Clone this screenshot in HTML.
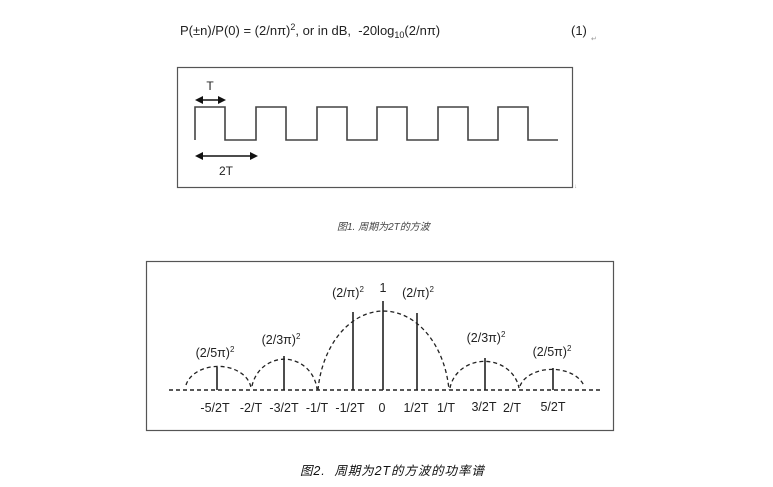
<!DOCTYPE html>
<html>
<head>
<meta charset="utf-8">
<style>
  html,body{margin:0;padding:0;background:#fff;}
  body{width:773px;height:487px;overflow:hidden;position:relative;}
  svg{position:absolute;left:0;top:0;}
  .t{font-family:"Liberation Sans",Arial,sans-serif;fill:#222;}
  .cj{font-family:"Liberation Sans","Noto Sans CJK SC","WenQuanYi Zen Hei",sans-serif;font-style:italic;}
</style>
</head>
<body>
<svg width="773" height="487" viewBox="0 0 773 487" xmlns="http://www.w3.org/2000/svg">
  <rect x="0" y="0" width="773" height="487" fill="#fff"/>

  <!-- Formula -->
  <text class="t" x="180" y="35" font-size="13">P(±n)/P(0) = (2/nπ)<tspan font-size="9" dy="-5">2</tspan><tspan dy="5">, or in dB,&#160; -20log</tspan><tspan font-size="9" dy="3">10</tspan><tspan dy="-3">(2/nπ)</tspan></text>
  <text class="t" x="571" y="35" font-size="13">(1)</text>
  <text x="591" y="41" font-size="7" fill="#999" font-family="Liberation Sans, sans-serif">↵</text>

  <!-- Figure 1 box -->
  <rect x="177.5" y="67.5" width="395" height="120" fill="none" stroke="#555" stroke-width="1.2"/>
  <text x="574" y="188" font-size="6" fill="#999" font-family="Liberation Sans, sans-serif">↓</text>

  <!-- Square wave -->
  <path d="M195,140 V107 H225 V140 H256 V107 H286 V140 H317 V107 H347 V140 H377 V107 H407 V140 H438 V107 H468 V140 H498 V107 H528 V140 H558"
        fill="none" stroke="#444" stroke-width="1.6"/>

  <!-- T arrow -->
  <line x1="200" y1="100" x2="220" y2="100" stroke="#111" stroke-width="1.6"/>
  <polygon points="195,100 203,96 203,104" fill="#111"/>
  <polygon points="226,100 218,96 218,104" fill="#111"/>
  <text class="t" x="210" y="90" font-size="12" text-anchor="middle">T</text>

  <!-- 2T arrow -->
  <line x1="200" y1="156" x2="252" y2="156" stroke="#111" stroke-width="1.6"/>
  <polygon points="195,156 203,152 203,160" fill="#111"/>
  <polygon points="258,156 250,152 250,160" fill="#111"/>
  <text class="t" x="226" y="175" font-size="12" text-anchor="middle">2T</text>

  <!-- Caption 1 -->
  <text class="cj" x="337" y="230" font-size="10" fill="#444">图1. 周期为2T的方波</text>

  <!-- Figure 2 box -->
  <rect x="146.5" y="261.5" width="467" height="169" fill="none" stroke="#555" stroke-width="1.2"/>

  <!-- baseline -->
  <line x1="169" y1="390" x2="603" y2="390" stroke="#222" stroke-width="1.4" stroke-dasharray="4 3"/>

  <!-- lobes -->
  <g fill="none" stroke="#222" stroke-width="1.3" stroke-dasharray="4 3">
    <path d="M186,385 A33,24 0 0 1 251,388"/>
    <path d="M252,386 A33,34 0 0 1 317,389"/>
    <path d="M318,390 A66,90 0 0 1 449,390"/>
    <path d="M450,388 A35,32 0 0 1 519,388"/>
    <path d="M520,386 A33,22 0 0 1 584,386"/>
  </g>

  <!-- stems -->
  <g stroke="#222" stroke-width="1.6">
    <line x1="217" y1="390" x2="217" y2="367"/>
    <line x1="284" y1="390" x2="284" y2="356"/>
    <line x1="353" y1="390" x2="353" y2="312"/>
    <line x1="383" y1="390" x2="383" y2="301"/>
    <line x1="417" y1="390" x2="417" y2="313"/>
    <line x1="485" y1="390" x2="485" y2="358"/>
    <line x1="553" y1="390" x2="553" y2="368"/>
  </g>

  <!-- top labels -->
  <g class="t" font-size="12.5" text-anchor="middle">
    <text x="383" y="292">1</text>
    <text x="348" y="297">(2/π)<tspan font-size="8" dy="-5">2</tspan></text>
    <text x="418" y="297">(2/π)<tspan font-size="8" dy="-5">2</tspan></text>
    <text x="281" y="344">(2/3π)<tspan font-size="8" dy="-5">2</tspan></text>
    <text x="486" y="342">(2/3π)<tspan font-size="8" dy="-5">2</tspan></text>
    <text x="215" y="357">(2/5π)<tspan font-size="8" dy="-5">2</tspan></text>
    <text x="552" y="356">(2/5π)<tspan font-size="8" dy="-5">2</tspan></text>
  </g>

  <!-- bottom labels -->
  <g class="t" font-size="12.5" text-anchor="middle">
    <text x="215" y="412">-5/2T</text>
    <text x="251" y="412">-2/T</text>
    <text x="284" y="412">-3/2T</text>
    <text x="317" y="412">-1/T</text>
    <text x="350" y="412">-1/2T</text>
    <text x="382" y="412">0</text>
    <text x="416" y="412">1/2T</text>
    <text x="446" y="412">1/T</text>
    <text x="484" y="411">3/2T</text>
    <text x="512" y="412">2/T</text>
    <text x="553" y="411">5/2T</text>
  </g>

  <!-- Caption 2 -->
  <text class="cj" x="300" y="475" font-size="12.5" fill="#111" letter-spacing="0.9">图2.&#160; 周期为2T的方波的功率谱</text>
</svg>
</body>
</html>
